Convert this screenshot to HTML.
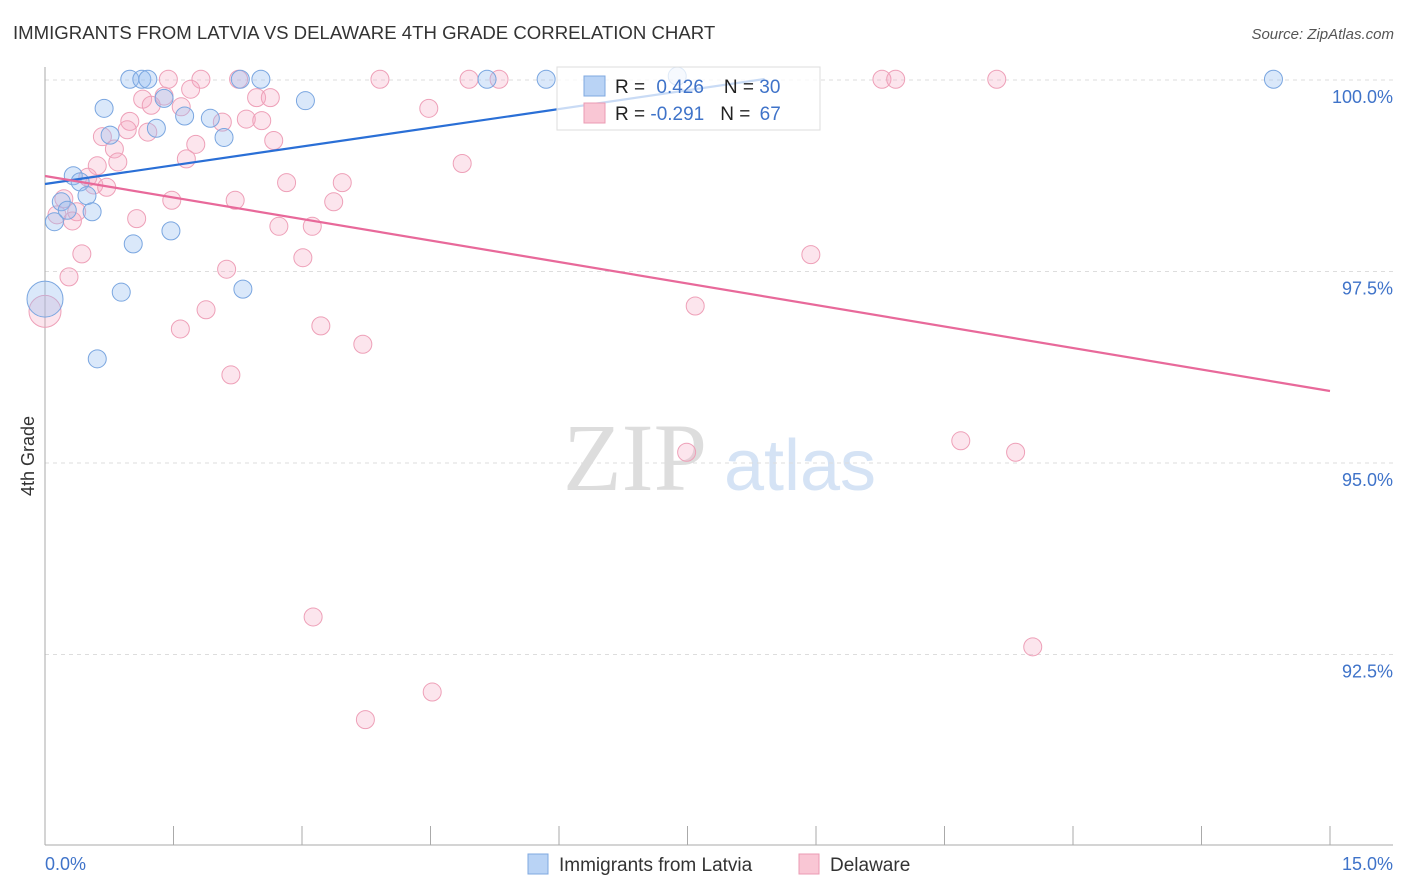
<!DOCTYPE html>
<html><head><meta charset="utf-8"><style>
body{margin:0;background:#fff;font-family:"Liberation Sans",sans-serif}
svg{display:block}
</style></head><body>
<svg id="chart" width="1406" height="892">
<text x="13" y="39" font-size="18.6" fill="#333">IMMIGRANTS FROM LATVIA VS DELAWARE 4TH GRADE CORRELATION CHART</text>
<text x="1394" y="39" font-size="15" fill="#555" font-style="italic" text-anchor="end">Source: ZipAtlas.com</text>
<text x="635" y="490" font-size="96" fill="#ddd" font-family="Liberation Serif,serif" text-anchor="middle">ZIP</text>
<text x="800" y="490" font-size="72" fill="#d5e3f5" text-anchor="middle">atlas</text>
<text x="34" y="456" font-size="18" fill="#333" text-anchor="middle" transform="rotate(-90 34 456)">4th Grade</text>
<g id="grid"></g><g id="axes"></g><g id="pts"></g><g id="lines"></g>
<g>
<rect x="557" y="67" width="263" height="63" fill="rgba(255,255,255,0.75)" stroke="#ddd"/>
<rect x="584" y="76" width="21" height="20" fill="#b9d3f5" stroke="#7fa8e0"/>
<rect x="584" y="103" width="21" height="20" fill="#f9c6d4" stroke="#eb9bb3"/>
<text x="615" y="93" font-size="19" fill="#222">R = <tspan fill="#3f73c9" dx="6">0.426</tspan><tspan dx="20" fill="#222">N = </tspan><tspan fill="#3f73c9">30</tspan></text>
<text x="615" y="120" font-size="19" fill="#222">R = <tspan fill="#3f73c9">-0.291</tspan><tspan dx="16" fill="#222">N = </tspan><tspan fill="#3f73c9" dx="4">67</tspan></text>
</g>
<g>
<rect x="528" y="854" width="20" height="20" fill="#b9d3f5" stroke="#7fa8e0"/>
<text x="559" y="871" font-size="19" fill="#333">Immigrants from Latvia</text>
<rect x="799" y="854" width="20" height="20" fill="#f9c6d4" stroke="#eb9bb3"/>
<text x="830" y="871" font-size="19" fill="#333">Delaware</text>
</g>
</svg>
<script>
const yTicks=[100,97.5,95,92.5];
const yTickLabels=["100.0%","97.5%","95.0%","92.5%"];
const xTickVals=[0,1.5,3,4.5,6,7.5,9,10.5,12,13.5,15];
const blueX=[0.99,1.13,1.2,2.28,2.52,5.16,5.85,14.34,7.38,0.69,1.39,1.63,1.93,1.3,2.09,3.04,0.76,0.33,0.41,0.19,0.49,0.26,0.55,0.11,1.03,1.47,0.89,2.31,0.61,0.0];
const blueY=[100.01,100.01,100.01,100.01,100.01,100.01,100.01,100.01,100.05,99.63,99.76,99.53,99.5,99.37,99.25,99.73,99.28,98.75,98.67,98.41,98.49,98.3,98.28,98.15,97.86,98.03,97.23,97.27,96.36,97.14];
const blueR=[9,9,9,9,9,9,9,9,9,9,9,9,9,9,9,9,9,9,9,9,9,9,9,9,9,9,9,9,9,18];
const pinkX=[1.44,1.82,2.26,3.91,4.95,5.3,9.77,9.93,11.11,1.14,1.24,1.7,1.59,1.39,2.47,2.63,4.48,2.07,2.35,2.53,0.99,0.96,1.2,0.67,0.81,1.76,2.67,1.65,0.85,0.61,4.87,0.57,0.5,0.72,2.82,3.47,0.22,1.48,2.22,3.37,0.37,0.14,0.32,1.07,2.73,3.12,0.43,3.01,8.94,2.12,0.28,1.88,7.59,1.58,3.22,3.71,2.17,10.69,11.33,7.49,3.13,11.53,4.52,3.74,0.0];
const pinkY=[100.01,100.01,100.01,100.01,100.01,100.01,100.01,100.01,100.01,99.75,99.67,99.88,99.65,99.79,99.77,99.77,99.63,99.45,99.49,99.47,99.46,99.35,99.32,99.26,99.1,99.16,99.21,98.97,98.93,98.88,98.91,98.63,98.73,98.6,98.66,98.66,98.45,98.43,98.43,98.41,98.28,98.24,98.16,98.19,98.09,98.09,97.73,97.68,97.72,97.53,97.43,97.0,97.05,96.75,96.79,96.55,96.15,95.29,95.14,95.14,92.99,92.6,92.01,91.65,96.98];
const pinkR=Array(64).fill(9).concat([16]);
const blueLine=[[0,98.642],[8.4,100.013]];
const pinkLine=[[0,98.747],[15,95.94]];
const NS="http://www.w3.org/2000/svg";
const X=v=>45+v/15*1285, Y=v=>80+(100-v)/2.5*191.5;
function mk(t,a,p){const e=document.createElementNS(NS,t);for(const k in a)e.setAttribute(k,a[k]);p.appendChild(e);return e;}
const grid=document.getElementById('grid'),axes=document.getElementById('axes'),pts=document.getElementById('pts'),lines=document.getElementById('lines');
yTicks.forEach((v,i)=>{
 const l=mk('line',{x1:45,x2:1393,y1:Y(v),y2:Y(v),stroke:'#ddd','stroke-dasharray':'4 4'},grid);
 
 
 const t=mk('text',{x:1393,y:Y(v)+23,'font-size':18,fill:'#3f73c9','text-anchor':'end'},axes);
 t.textContent=yTickLabels[i];
 
 
});
const ya=mk('line',{x1:45,x2:45,y1:67,y2:845,stroke:'#aaa'},axes);


const xa=mk('line',{x1:45,x2:1393,y1:845,y2:845,stroke:'#aaa'},axes);


xTickVals.forEach(v=>{
 const t=mk('line',{x1:X(v),x2:X(v),y1:826,y2:845,stroke:'#aaa'},axes);
 
 
});
[[0,'0.0%','start',45],[15,'15.0%','end',1393]].forEach(d=>{
 const t=mk('text',{x:d[3],y:870,'font-size':18,fill:'#3f73c9','text-anchor':d[2]},axes);
 t.textContent=d[1];
 
 
});
pinkX.forEach((v,i)=>{
 const c=mk('circle',{cx:X(v),cy:Y(pinkY[i]),r:pinkR[i],fill:'rgba(246,170,195,0.3)',stroke:'#eea0b8','stroke-width':1},pts);
 
 
});
blueX.forEach((v,i)=>{
 const c=mk('circle',{cx:X(v),cy:Y(blueY[i]),r:blueR[i],fill:'rgba(150,190,240,0.35)',stroke:'#7aa6e0','stroke-width':1},pts);
 
 
});
const bl=mk('line',{x1:X(blueLine[0][0]),y1:Y(blueLine[0][1]),x2:X(blueLine[1][0]),y2:Y(blueLine[1][1]),stroke:'#2a6fd6','stroke-width':2.2},lines);


const pl=mk('line',{x1:X(pinkLine[0][0]),y1:Y(pinkLine[0][1]),x2:X(pinkLine[1][0]),y2:Y(pinkLine[1][1]),stroke:'#e8699a','stroke-width':2.2},lines);


</script>
</body></html>
